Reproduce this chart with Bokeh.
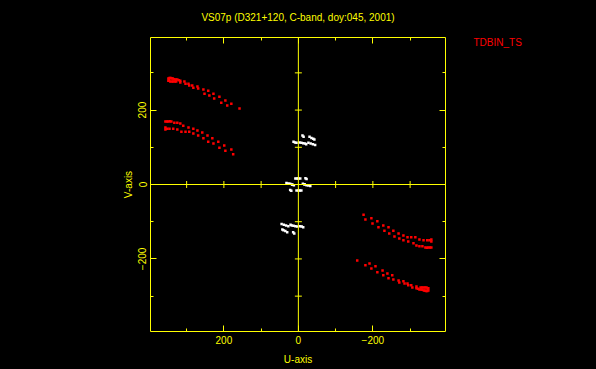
import numpy as np
from bokeh.plotting import figure
from bokeh.models import Range1d, LinearAxis, FixedTicker, Span
from bokeh.embed import file_html
from bokeh.resources import INLINE

# ---------------- data ----------------
title_text = "VS07p (D321+120, C-band, doy:045, 2001)"
tag_text = "TDBIN_TS"

major_ticks = [-200, 0, 200]
minor_ticks = [-300, -100, 100, 300]

# long baselines (red), upper-left half of the uv plane
u_a1 = [349, 346, 343, 340, 337, 333, 329, 325, 321, 317, 306, 295, 285, 271, 255, 242, 228, 212, 196, 180, 158]
v_a1 = [285, 286, 286, 285, 285, 283, 282, 282, 280, 279, 277, 271, 266, 263, 255, 252, 244, 236, 226, 217, 204]
u_a2 = [349, 347, 344, 340, 336, 332, 328, 317, 303, 293, 282, 269, 252, 239, 226, 207, 191]
v_a2 = [279, 280, 277, 277, 277, 277, 277, 274, 271, 266, 260, 258, 244, 239, 231, 220, 212]
u_b1 = [357, 353, 349, 345, 341, 333, 325, 317, 309, 295, 282, 271, 258, 244, 231, 215, 199, 180]
v_b1 = [169, 169, 169, 170, 169, 166, 166, 164, 158, 153, 150, 145, 140, 132, 124, 115, 105, 94]
u_b2 = [357, 357, 352, 346, 336, 325, 314, 303, 293, 282, 269, 255, 242, 228, 212, 196, 175]
v_b2 = [153, 148, 150, 150, 150, 148, 142, 142, 142, 137, 132, 124, 115, 110, 99, 91, 81]

# short baselines (white)
u_w1 = [13, 9, 5, -3, -8, -13, -18, -21, -11, -14, -30, -35, -40, -43, -27, -33, -39, -45]
v_w1 = [115, 113, 112, 113, 112, 111, 110, 108, 132, 128, 128, 125, 123, 121, 112, 110, 108, 106]
u_w0 = [8, 4, 0, -5, -19, -22, 32, 27, 22, 17, -12, -16]
v_w0 = [16, 16, 16, 16, 17, 15, 4, 3, 2, 0, 2, 1]

# ---------------- figure ----------------
YELLOW = "#ffff00"
RED = "#ff0000"
FONT = "Liberation Sans"
FS = "10px"

W, H = 596, 369
p = figure(width=W, height=H, output_backend="svg", toolbar_location=None, title=None,
           x_range=Range1d(397, -395), y_range=Range1d(-395, 395),
           min_border_left=150, min_border_right=151, min_border_top=37, min_border_bottom=38,
           background_fill_color="black", border_fill_color="black",
           outline_line_color=YELLOW, outline_line_width=1,
           x_axis_location=None, y_axis_location=None)
p.xgrid.visible = False
p.ygrid.visible = False


def make_axis(loc, labelled):
    ax = LinearAxis(ticker=FixedTicker(ticks=major_ticks, minor_ticks=minor_ticks),
                    axis_line_color=None,
                    major_tick_line_color=YELLOW, minor_tick_line_color=YELLOW,
                    major_tick_in=6, major_tick_out=0, minor_tick_in=3, minor_tick_out=0,
                    major_label_text_color=YELLOW, major_label_text_font=FONT,
                    major_label_text_font_size=FS, major_label_standoff=4,
                    axis_label_text_color=YELLOW, axis_label_text_font=FONT,
                    axis_label_text_font_size=FS, axis_label_text_font_style="normal")
    if not labelled:
        ax.major_label_overrides = {t: "" for t in major_ticks}
        ax.major_label_text_font_size = "1px"
        ax.major_label_standoff = 0
    p.add_layout(ax, loc)
    return ax


xb = make_axis("below", True)
xb.axis_label = "U-axis"
xb.axis_label_standoff = 7

yl = make_axis("left", True)
yl.major_label_orientation = "vertical"
yl.axis_label = "V-axis"
yl.axis_label_standoff = 2

xt = make_axis("above", False)
xt.axis_label = title_text
xt.axis_label_standoff = 15

make_axis("right", False)

# red tag to the right of the frame, carried by a tick-less outer right axis
TAG_V = 381
tag_axis = LinearAxis(ticker=FixedTicker(ticks=[TAG_V], minor_ticks=[]),
                      axis_line_color=None, major_tick_line_color=None, minor_tick_line_color=None,
                      major_tick_in=0, major_tick_out=0,
                      major_label_overrides={TAG_V: tag_text},
                      major_label_orientation="horizontal",
                      major_label_text_color=RED, major_label_text_font=FONT,
                      major_label_text_font_size=FS, major_label_standoff=28)
p.add_layout(tag_axis, "right")

# centre cross
p.add_layout(Span(location=0, dimension="height", line_color=YELLOW, line_width=1))
p.add_layout(Span(location=0, dimension="width", line_color=YELLOW, line_width=1))
cross_ticks = [t for t in major_ticks + minor_ticks if t != 0]
p.scatter(x=[0] * len(cross_ticks), y=cross_ticks, marker="dash", size=7,
          line_color=YELLOW, line_width=1)
p.scatter(x=cross_ticks, y=[0] * len(cross_ticks), marker="dash", size=7, angle=np.pi / 2,
          line_color=YELLOW, line_width=1)

# red long-baseline tracks + conjugates
ru = np.array(u_a1 + u_a2 + u_b1 + u_b2, dtype=float)
rv = np.array(v_a1 + v_a2 + v_b1 + v_b2, dtype=float)
p.scatter(np.concatenate([ru, -ru]), np.concatenate([rv, -rv]), marker="square", size=2.5,
          fill_color=RED, line_color=None)

# white short-baseline points + conjugates
wu = np.array(u_w1 + u_w0, dtype=float)
wv = np.array(v_w1 + v_w0, dtype=float)
p.scatter(np.concatenate([wu, -wu]), np.concatenate([wv, -wv]), marker="square", size=2.5,
          fill_color="white", line_color=None)

html = file_html(p, INLINE)
html = html.replace("</head>", "<style>html,body{background:#000000;}</style></head>", 1)
open("out.html", "w").write(html)
